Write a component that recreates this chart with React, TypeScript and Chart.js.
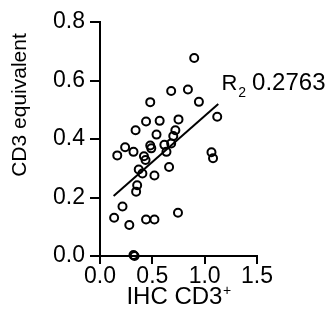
import React, { useEffect, useRef } from "react";
import { Chart, registerables } from "chart.js";

Chart.register(...registerables);

// IHC CD3+ (x) vs CD3 equivalent (y)
const ihcCD3 = [
  0.9, 0.68, 0.84, 0.945, 0.48, 1.12, 0.44, 0.57, 0.75, 0.34,
  0.72, 0.54, 0.7, 0.24, 0.48, 0.49, 0.615, 0.68, 0.32, 0.165,
  0.635, 0.42, 0.435, 1.065, 1.08, 0.37, 0.405, 0.66, 0.52, 0.355,
  0.345, 0.215, 0.135, 0.28, 0.44, 0.52, 0.745, 0.32, 0.33,
];
const cd3Equivalent = [
  0.677, 0.564, 0.569, 0.527, 0.526, 0.476, 0.46, 0.462, 0.467, 0.43,
  0.43, 0.415, 0.41, 0.372, 0.378, 0.368, 0.38, 0.385, 0.356, 0.344,
  0.356, 0.341, 0.328, 0.355, 0.334, 0.296, 0.282, 0.304, 0.275, 0.242,
  0.22, 0.169, 0.131, 0.106, 0.125, 0.125, 0.148, 0.003, 0.0,
];
const fitX = [0.13, 1.13];
const fitY = [0.205, 0.52];
const xTicks = [0, 0.5, 1.0, 1.5];
const yTicks = [0, 0.2, 0.4, 0.6, 0.8];
const xTitle = "IHC CD3";
const xTitleSup = "+";
const yTitle = "CD3 equivalent";
const r2Main = "R";
const r2Sub = "2";
const r2Value = "0.2763";
const r2Anchor = { x: 1.16, y: 0.569 };

const FONT = "'Liberation Sans', Arial, Helvetica, sans-serif";

const annotationPlugin = {
  id: "annotations",
  afterDraw(chart: any) {
    const ctx = chart.ctx as CanvasRenderingContext2D;
    const { left, right, top, bottom } = chart.chartArea;
    const xs = chart.scales.x;
    const ys = chart.scales.y;
    ctx.save();
    ctx.fillStyle = "#000";
    ctx.textBaseline = "alphabetic";
    ctx.textAlign = "left";

    // R2 annotation
    const ax = xs.getPixelForValue(r2Anchor.x);
    const ay = ys.getPixelForValue(r2Anchor.y);
    ctx.font = `22px ${FONT}`;
    ctx.fillText(r2Main, ax, ay);
    const rw = ctx.measureText(r2Main).width;
    ctx.font = `14px ${FONT}`;
    ctx.fillText(r2Sub, ax + rw + 1, ay + 7);
    const sw = ctx.measureText(r2Sub).width;
    ctx.font = `24px ${FONT}`;
    ctx.fillText(r2Value, ax + rw + 1 + sw + 6, ay);

    // x title with superscript
    ctx.font = `24px ${FONT}`;
    const mw = ctx.measureText(xTitle).width;
    ctx.font = `14px ${FONT}`;
    const pw = ctx.measureText(xTitleSup).width;
    const cx = (left + right) / 2;
    const startX = cx - (mw + pw) / 2;
    const by = bottom + 48;
    ctx.font = `24px ${FONT}`;
    ctx.fillText(xTitle, startX, by);
    ctx.font = `14px ${FONT}`;
    ctx.fillText(xTitleSup, startX + mw + 0.5, by - 9);

    // y title rotated
    ctx.font = `21px ${FONT}`;
    ctx.textAlign = "center";
    ctx.textBaseline = "middle";
    ctx.translate(left - 80, top + 83);
    ctx.rotate(-Math.PI / 2);
    ctx.fillText(yTitle, 0, 0);
    ctx.restore();
  },
};

export default function App() {
  const canvasRef = useRef<HTMLCanvasElement | null>(null);

  useEffect(() => {
    if (!canvasRef.current) return;
    const points = ihcCD3.map((x, i) => ({ x, y: cd3Equivalent[i] }));
    const fit = fitX.map((x, i) => ({ x, y: fitY[i] }));
    const chart = new Chart(canvasRef.current, {
      type: "scatter",
      data: {
        datasets: [
          {
            type: "scatter",
            data: points,
            pointRadius: 4,
            pointHoverRadius: 4,
            pointBorderWidth: 2,
            pointBorderColor: "#000",
            pointBackgroundColor: "rgba(0,0,0,0)",
            clip: false,
          } as any,
          {
            type: "line",
            data: fit,
            borderColor: "#000",
            borderWidth: 2,
            pointRadius: 0,
            fill: false,
            clip: false,
          } as any,
        ],
      },
      options: {
        animation: false,
        responsive: false,
        events: [],
        layout: { padding: { left: 0, top: 22, right: 77, bottom: 0 } },
        plugins: {
          legend: { display: false },
          tooltip: { enabled: false },
        },
        scales: {
          x: {
            type: "linear",
            min: 0,
            max: 1.5,
            afterFit: (s: any) => {
              s.height = 66;
            },
            afterBuildTicks: (s: any) => {
              s.ticks = xTicks.map((v) => ({ value: v }));
            },
            ticks: {
              callback: (v: any) => Number(v).toFixed(1),
              font: { family: FONT, size: 23 },
              color: "#000",
              padding: -1,
              maxRotation: 0,
            },
            grid: {
              display: true,
              drawOnChartArea: false,
              drawTicks: true,
              tickLength: 8,
              color: "#000",
              lineWidth: 2,
            },
            border: { display: true, color: "#000", width: 2 },
          },
          y: {
            type: "linear",
            min: 0,
            max: 0.8,
            afterFit: (s: any) => {
              s.width = 100;
            },
            afterBuildTicks: (s: any) => {
              s.ticks = yTicks.map((v) => ({ value: v }));
            },
            ticks: {
              callback: (v: any) => Number(v).toFixed(1),
              font: { family: FONT, size: 23 },
              color: "#000",
              padding: 5,
            },
            grid: {
              display: true,
              drawOnChartArea: false,
              drawTicks: true,
              tickLength: 10,
              color: "#000",
              lineWidth: 2,
            },
            border: { display: true, color: "#000", width: 2 },
          },
        },
      },
      plugins: [annotationPlugin],
    });
    return () => chart.destroy();
  }, []);

  return (
    <div
      style={{
        position: "fixed",
        left: 0,
        top: 0,
        width: 334,
        height: 322,
        background: "#fff",
      }}
    >
      <canvas ref={canvasRef} width={334} height={322} />
    </div>
  );
}
